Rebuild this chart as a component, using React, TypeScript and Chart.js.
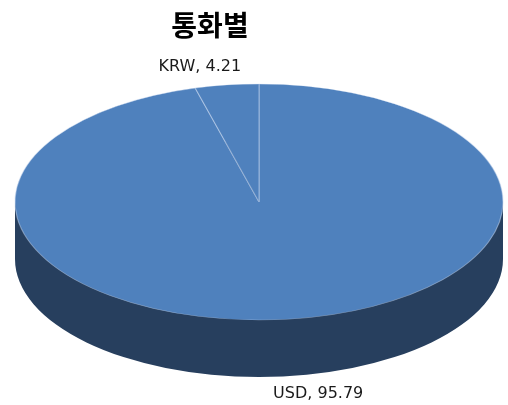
import React, { useEffect, useRef } from "react";
import { Chart, registerables } from "chart.js";

Chart.register(...registerables);

const TITLE = "통화별";
const categories = ["USD", "KRW"];
const shares = [95.79, 4.21];

const TOP_COLOR = "#4F81BD";
const SIDE_COLOR = "#273F5E";

// ellipse geometry of the 3D look
const CX = 259;
const CY = 202;
const RX = 244;
const RY = 118;
const DEPTH = 57;

const pie3d = {
  id: "pie3d",
  beforeDatasetsDraw(chart: any) {
    const ctx = chart.ctx;
    const meta = chart.getDatasetMeta(0);
    const arcs = meta.data;
    if (!arcs.length) return;
    const { x, y, outerRadius } = arcs[0].getProps(["x", "y", "outerRadius"], true);
    const sx = RX / outerRadius;
    const sy = RY / outerRadius;
    // side wall: one filled shape (bottom ellipse + band)
    ctx.save();
    ctx.fillStyle = SIDE_COLOR;
    ctx.beginPath();
    ctx.rect(CX - RX, CY, RX * 2, DEPTH);
    ctx.fill();
    ctx.translate(CX, CY + DEPTH);
    ctx.scale(sx, sy);
    ctx.beginPath();
    for (const a of arcs) {
      const p = a.getProps(["startAngle", "endAngle", "outerRadius"], true);
      ctx.moveTo(0, 0);
      ctx.arc(0, 0, p.outerRadius, p.startAngle, p.endAngle);
      ctx.closePath();
    }
    ctx.fill();
    ctx.restore();

    ctx.save();
    ctx.translate(CX, CY);
    ctx.scale(sx, sy);
    ctx.translate(-x, -y);
  },
  afterDatasetsDraw(chart: any) {
    chart.ctx.restore();
  },
  afterDraw(chart: any) {
    const ctx = chart.ctx;
    const meta = chart.getDatasetMeta(0);
    const values = chart.data.datasets[0].data;
    const labels = chart.data.labels;
    ctx.save();
    ctx.fillStyle = "#000";
    ctx.font = "bold 28px 'Noto Sans CJK KR'";
    ctx.textAlign = "center";
    ctx.textBaseline = "middle";
    ctx.fillText(TITLE, 210, 25);
    ctx.font = "16px 'DejaVu Sans'";
    ctx.fillStyle = "#1a1a1a";
    meta.data.forEach((a: any, i: number) => {
      const p = a.getProps(["startAngle", "endAngle"], true);
      const mid = (p.startAngle + p.endAngle) / 2;
      const c = Math.cos(mid);
      const s = Math.sin(mid);
      const px = CX + RX * c + Math.sign(c) * 27;
      const py = CY + RY * s + (s > 0 ? DEPTH + 18 : -18);
      ctx.fillText(`${labels[i]}, ${values[i]}`, px, py);
    });
    ctx.restore();
  },
};

export default function App() {
  const ref = useRef<HTMLCanvasElement>(null);
  useEffect(() => {
    document.body.style.margin = "0";
    const chart = new Chart(ref.current!, {
      type: "pie",
      data: {
        labels: categories,
        datasets: [
          {
            data: shares,
            backgroundColor: TOP_COLOR,
            borderColor: "rgba(200,215,240,0.5)",
            borderWidth: 1,
            clip: false,
          } as any,
        ],
      },
      options: {
        responsive: false,
        animation: false,
        plugins: {
          legend: { display: false },
          title: { display: false },
          tooltip: { enabled: false },
        },
      },
      plugins: [pie3d],
    });
    return () => chart.destroy();
  }, []);
  return (
    <div style={{ width: 508, height: 405 }}>
      <canvas ref={ref} width={508} height={405} />
    </div>
  );
}
